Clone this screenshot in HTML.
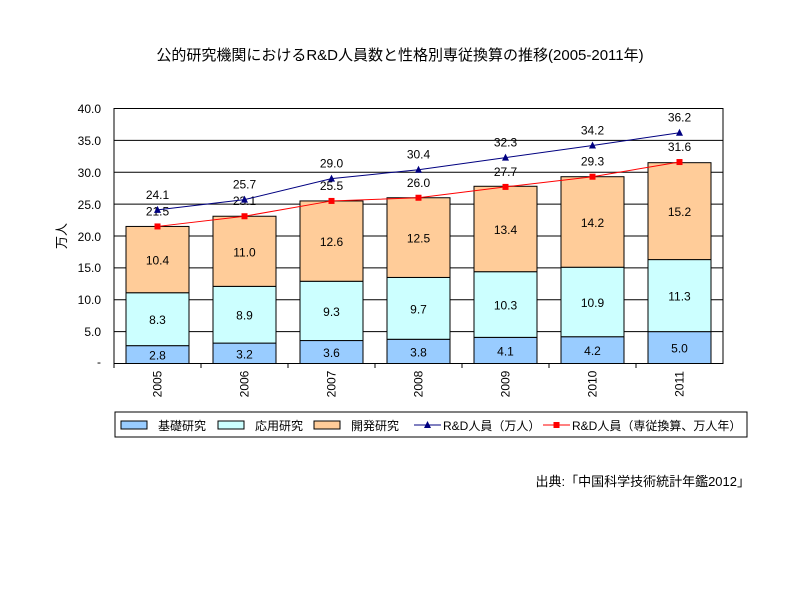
<!DOCTYPE html>
<html><head><meta charset="utf-8"><style>
body{margin:0;background:#fff;}
text{font-family:"Liberation Sans","Noto Sans CJK JP",sans-serif;}
</style></head><body>
<svg width="800" height="600" xmlns="http://www.w3.org/2000/svg">
<rect width="800" height="600" fill="#fff"/>
<text x="400" y="60" font-size="15" text-anchor="middle" fill="#000">公的研究機関におけるR&amp;D人員数と性格別専従換算の推移(2005-2011年)</text>
<g stroke="#000" stroke-width="1">
<line x1="114" y1="108.5" x2="723" y2="108.5"/>
<line x1="114" y1="140.4" x2="723" y2="140.4"/>
<line x1="114" y1="172.3" x2="723" y2="172.3"/>
<line x1="114" y1="204.1" x2="723" y2="204.1"/>
<line x1="114" y1="236" x2="723" y2="236"/>
<line x1="114" y1="267.9" x2="723" y2="267.9"/>
<line x1="114" y1="299.8" x2="723" y2="299.8"/>
<line x1="114" y1="331.6" x2="723" y2="331.6"/>
</g>
<g font-size="12" text-anchor="end" fill="#000">
<text x="101" y="113">40.0</text><text x="101" y="145">35.0</text><text x="101" y="177">30.0</text><text x="101" y="209">25.0</text><text x="101" y="241">20.0</text><text x="101" y="272">15.0</text><text x="101" y="304">10.0</text><text x="101" y="336">5.0</text><text x="101" y="366">-</text>
</g>
<text transform="translate(66,236) rotate(-90)" font-size="13" text-anchor="middle">万人</text>
<g id="bars" stroke="#000" stroke-width="1"></g>
<g id="lbl" font-size="12" text-anchor="middle" fill="#000"></g>
<rect x="114" y="108.5" width="609" height="255" fill="none" stroke="#000"/>
<polyline id="bl" fill="none" stroke="#000080" stroke-width="1"/>
<polyline id="rl" fill="none" stroke="#ff0000" stroke-width="1"/>
<g id="mk"></g>
<rect x="115" y="412" width="632" height="25" fill="#fff" stroke="#000"/>
<g stroke="#000" stroke-width="1">
<rect x="121" y="421" width="26" height="8" fill="#99ccff"/>
<rect x="218" y="421" width="26" height="8" fill="#ccffff"/>
<rect x="314" y="421" width="26" height="8" fill="#ffcc99"/>
</g>
<line x1="414" y1="425" x2="441" y2="425" stroke="#000080"/><polygon points="427.5,421 431,428 424,428" fill="#000080"/>
<line x1="543" y1="425" x2="570" y2="425" stroke="#f00"/><rect x="553.5" y="422" width="6" height="6" fill="#f00"/>
<g font-size="12" fill="#000">
<text x="158" y="430">基礎研究</text><text x="255" y="430">応用研究</text><text x="351" y="430">開発研究</text>
<text x="443" y="430">R&amp;D人員（万人）</text><text x="572" y="430">R&amp;D人員（専従換算、万人年）</text>
</g>
<text x="750" y="486" font-size="13" text-anchor="end">出典:「中国科学技術統計年鑑2012」</text>
<g id="yrs" font-size="12" text-anchor="middle"></g>
</svg>
<script>
var b=[2.8,3.2,3.6,3.8,4.1,4.2,5.0],a=[8.3,8.9,9.3,9.7,10.3,10.9,11.3],d=[10.4,11.0,12.6,12.5,13.4,14.2,15.2];
var bl=[24.1,25.7,29.0,30.4,32.3,34.2,36.2],rl=[21.5,23.1,25.5,26.0,27.7,29.3,31.6];
var Y=function(v){return 363.5-v*6.375};var ns="http://www.w3.org/2000/svg";
function el(p,t,at,tx){var e=document.createElementNS(ns,t);for(var k in at)e.setAttribute(k,at[k]);if(tx)e.textContent=tx;document.getElementById(p).appendChild(e);return e;}
var bp=[],rp=[];
for(var i=0;i<7;i++){var c=157.5+87*i,x=c-31.5;
var s=[[b[i],'#99ccff'],[a[i],'#ccffff'],[d[i],'#ffcc99']],acc=0;
for(var j=0;j<3;j++){var y0=Y(acc),y1=Y(acc+s[j][0]);el('bars','rect',{x:x,y:y1,width:63,height:y0-y1,fill:s[j][1]});
el('lbl','text',{x:c,y:(y0+y1)/2+5},s[j][0].toFixed(1));acc+=s[j][0];}
el('bars','line',{x1:114+87*i,y1:363.5,x2:114+87*i,y2:368});
bp.push(c+','+Y(bl[i]));rp.push(c+','+Y(rl[i]));
el('mk','polygon',{points:c+','+(Y(bl[i])-4)+' '+(c+3.5)+','+(Y(bl[i])+3)+' '+(c-3.5)+','+(Y(bl[i])+3),fill:'#000080'});
el('mk','rect',{x:c-3,y:Y(rl[i])-3,width:6,height:6,fill:'#f00'});
el('lbl','text',{x:c,y:Y(bl[i])-11},bl[i].toFixed(1));
el('lbl','text',{x:c,y:Y(rl[i])-11},rl[i].toFixed(1));
var t=el('yrs','text',{transform:'translate('+(c+4)+',384) rotate(-90)'},String(2005+i));}
document.getElementById('bl').setAttribute('points',bp.join(' '));
document.getElementById('rl').setAttribute('points',rp.join(' '));
</script>
</body></html>
